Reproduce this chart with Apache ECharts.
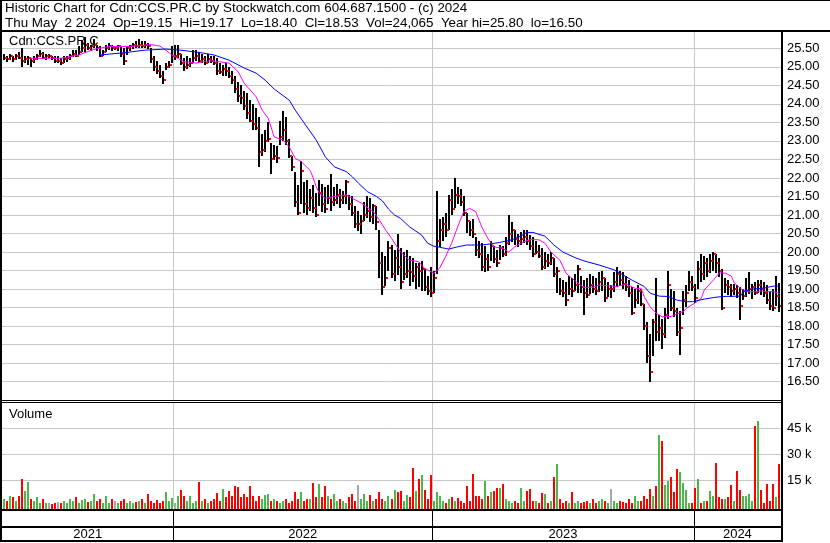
<!DOCTYPE html>
<html><head><meta charset="utf-8">
<script src="https://cdn.jsdelivr.net/npm/echarts@6/dist/echarts.min.js"></script>
<style>html,body{margin:0;padding:0;background:#fff}#c{width:830px;height:543px}</style>
</head><body><div id="c"></div>
<script>
// ---- data (one bar per ~3 trading days) ----
const high = [25.35,25.3,25.35,25.3,25.35,25.4,25.5,25.3,25.3,25.25,
25.3,25.35,25.45,25.4,25.35,25.35,25.3,25.3,25.3,25.25,
25.3,25.3,25.35,25.45,25.45,25.55,25.7,25.8,25.65,25.6,
25.75,25.6,25.55,25.45,25.6,25.65,25.6,25.55,25.6,25.55,
25.5,25.55,25.6,25.65,25.7,25.75,25.7,25.7,25.65,25.5,
25.3,25.15,25.05,24.9,25.1,25.15,25.55,25.6,25.6,25.35,
25.25,25.3,25.25,25.45,25.45,25.4,25.35,25.3,25.35,25.3,
25.3,25.25,25.1,25.05,25.1,25.0,24.9,24.75,24.6,24.5,
24.35,24.3,24.1,24.0,23.9,23.65,23.2,23.3,23.5,22.95,
22.9,22.85,23.55,23.8,23.65,23.05,22.6,22.15,21.8,22.45,
21.9,21.95,21.7,21.8,21.6,21.95,21.85,21.75,21.8,22.1,
21.75,21.85,21.7,21.65,21.95,21.55,21.5,21.25,21.1,21.0,
21.35,21.5,21.45,21.3,21.25,20.6,20.0,19.9,20.3,20.2,
20.05,20.5,20.1,20.0,20.05,19.9,19.85,19.7,19.7,19.75,
19.55,19.35,19.6,19.5,21.65,20.9,20.95,21.05,21.55,21.7,
22.0,21.75,21.7,21.5,21.05,20.85,20.9,20.4,20.3,20.25,
20.15,19.95,20.3,20.15,20.05,20.2,20.15,20.4,21.0,20.8,
20.6,20.5,20.55,20.6,20.6,20.45,20.4,20.3,20.2,20.1,
20.0,19.95,20.0,19.85,19.6,19.3,19.25,19.2,19.35,19.3,
19.4,19.65,19.35,19.25,19.3,19.4,19.35,19.3,19.45,19.5,
19.3,19.2,19.1,19.45,19.6,19.5,19.45,19.35,19.25,19.05,
19.0,19.1,19.0,18.6,18.1,17.8,18.2,19.3,18.3,18.2,
18.5,19.5,19.0,18.95,18.5,18.4,18.95,19.1,19.5,19.35,
19.15,19.75,19.95,19.9,19.85,19.95,20.0,19.95,19.85,19.55,
19.3,19.25,19.15,19.15,19.1,19.05,19.0,19.3,19.45,19.15,
19.2,19.25,19.25,19.2,19.1,18.95,19.0,19.35,19.17];
const low = [25.2,25.15,25.2,25.15,25.2,25.2,25.0,25.1,25.05,25.0,
25.1,25.2,25.25,25.2,25.2,25.25,25.2,25.1,25.1,25.05,
25.1,25.15,25.2,25.25,25.25,25.3,25.4,25.4,25.45,25.45,
25.5,25.45,25.25,25.3,25.4,25.45,25.45,25.45,25.45,25.25,
25.05,25.3,25.45,25.5,25.5,25.5,25.5,25.5,25.5,25.1,
24.9,24.8,24.7,24.55,24.9,24.95,25.1,25.2,25.25,25.05,
24.9,24.95,25.0,25.1,25.15,25.1,25.1,25.05,25.1,25.1,
25.05,24.8,24.8,24.75,24.75,24.7,24.55,24.3,24.05,24.0,
23.85,23.6,23.5,23.3,23.3,22.3,22.6,22.7,22.95,22.1,
22.5,22.4,22.9,23.0,22.9,22.55,22.2,21.2,21.0,21.3,
21.05,21.0,21.1,21.05,20.95,21.25,21.1,21.05,21.3,21.1,
21.25,21.3,21.2,21.3,21.3,21.15,20.95,20.65,20.55,20.5,
20.85,20.9,20.8,20.75,20.6,19.3,18.85,19.1,19.5,19.3,
19.2,19.4,19.0,19.25,19.3,19.1,19.2,19.0,19.05,18.95,
18.95,18.85,18.8,18.9,19.4,20.15,20.3,20.4,20.6,21.0,
21.2,21.3,21.25,20.95,20.5,20.45,20.4,19.9,19.85,19.5,
19.45,19.5,19.75,19.7,19.6,19.8,19.85,19.9,20.2,20.25,
20.2,20.15,20.2,20.25,20.2,20.05,19.85,19.95,19.85,19.5,
19.55,19.6,19.65,19.35,18.9,18.85,18.8,18.55,18.85,18.8,
18.95,18.9,18.9,18.3,18.75,18.85,18.9,18.85,18.9,18.95,
18.65,18.8,18.75,18.9,19.05,19.1,19.0,18.95,18.8,18.3,
18.5,18.6,18.55,17.9,17.0,16.5,17.2,17.6,17.6,17.4,
17.7,18.2,18.4,18.25,17.75,17.2,18.3,18.5,18.95,18.95,
18.65,19.0,19.2,19.25,19.35,19.45,19.5,19.45,19.35,18.45,
18.9,18.85,18.8,18.85,18.75,18.15,18.7,18.8,18.85,18.75,
18.85,18.9,18.85,18.8,18.6,18.45,18.4,18.55,18.40];
const close = [25.25,25.2,25.3,25.2,25.3,25.25,25.15,25.2,25.25,25.15,
25.2,25.3,25.35,25.25,25.3,25.3,25.25,25.15,25.15,25.1,
25.2,25.25,25.3,25.35,25.3,25.4,25.5,25.6,25.5,25.55,
25.6,25.5,25.3,25.4,25.5,25.55,25.5,25.5,25.55,25.35,
25.15,25.5,25.55,25.6,25.55,25.6,25.55,25.6,25.55,25.2,
25.0,24.9,24.75,24.65,25.0,25.05,25.3,25.3,25.35,25.1,
25.0,25.05,25.1,25.25,25.3,25.15,25.2,25.1,25.2,25.15,
25.1,24.9,24.85,24.95,24.9,24.75,24.65,24.4,24.2,24.15,
23.95,23.75,23.55,23.45,23.35,22.7,22.75,23.0,23.05,22.5,
22.6,22.55,23.1,23.3,23.0,22.6,22.3,21.35,21.05,22.2,
21.3,21.2,21.45,21.2,21.0,21.6,21.3,21.15,21.45,21.35,
21.4,21.55,21.4,21.5,21.9,21.3,21.05,20.75,20.75,20.85,
21.0,21.1,20.95,21.25,20.8,19.7,19.05,19.3,20.1,19.4,
19.85,19.6,19.2,19.4,19.5,19.45,19.35,19.6,19.5,19.55,
19.05,18.95,18.9,19.3,20.3,20.6,20.75,20.6,21.4,21.15,
21.55,21.5,21.35,21.05,20.85,20.6,20.5,20.05,19.95,19.6,
19.8,19.6,20.15,19.8,19.7,20.1,19.95,20.25,20.5,20.6,
20.35,20.3,20.35,20.4,20.3,20.15,19.95,20.0,19.9,19.6,
19.75,19.7,19.85,19.4,19.5,18.95,18.9,18.7,19.0,18.95,
19.1,19.55,19.05,18.9,18.85,19.1,19.0,18.95,19.2,19.3,
18.75,19.0,19.0,19.2,19.4,19.25,19.15,19.05,18.9,18.35,
18.7,18.95,18.6,18.0,17.2,16.75,18.1,17.85,17.95,17.8,
18.3,19.1,18.5,18.4,17.85,17.95,18.7,18.9,19.2,19.05,
18.75,19.55,19.4,19.7,19.5,19.75,19.95,19.7,19.5,18.5,
19.1,19.05,18.95,19.0,18.9,18.55,18.8,18.95,19.0,19.05,
18.9,19.1,19.0,18.9,18.7,18.55,18.5,18.8,18.53];
const volumeK = [4,3,6,5,3,6,15.8,8.5,13.8,4,
3,5,2,4,2,1.5,1,2,2.5,1.5,
3,2,4,3,5,2,3.5,4,2.5,3,
7,3,4,2,5.6,2,4,3,2,3,
4,2,3,2,2.5,3,4,2,7,3,
2,3.5,2,3,8,3,4.5,2,5.5,9.4,
6,3,5.5,2,3,13.8,3,4,2,3,
4,7.5,3,10,5,8.5,6,11.3,10.8,5,
7,5,11.3,6,3,6,4,6.5,7,3,
4,3,2,3,4,2,3,8,4,8,
3,4,4,13.3,5,12.7,5,11.3,6,4,
7,3,4,3,2,5,7,3,12.3,4,
7,3,6.5,3,4,8,4,3,5.5,4,
9.4,8,8.5,3,6.5,5,22,8.5,15.8,18,
9,4,18,3,8,5.5,3,2,4,5,
3,4.5,3,2,11.3,3,18.7,6,6,4,
14.6,5.5,8,8.5,10.4,10.4,12.7,4,3,2,
3,2,10.4,3,8.5,9.8,3,3,2,7.5,
7,2,3,16.7,24.4,4,2,3,2,8,
2,3,2,2.5,3,2,4,2,3,4,
3,2,10,3,2,3,2.5,2,4,2,
5.6,3,3,5.5,4,10,5.5,11.3,41,37.7,
12,14.6,17,8,21.5,19.6,13.3,9.4,1.5,1.5,
10.4,15.6,2,3,3,8.5,6,24.8,5,4,
4,5,12,3,20.4,9,6,6,7,3,
46.3,49,9,2,12.7,3,12.7,5,24.065];
// moving averages, sampled at bar indices
const pinkIdx = [9,19,25,30,35,42,49,52,54,56,60,64,67,70,75,78,80,84,86,88,90,93,95,97,99,102,103,104,105,107,110,114,116,119,123,125,127,129,132,135,138,140,143,145,147,149,151,153,155,157,159,161,163,166,168,170,172,175,178,180,182,185,187,189,191,193,196,198,201,204,207,210,212,213,215,217,219,222,223,226,227,230,232,233,236,238,240,242,243,245,247,250,252,254,256,258];
const pinkVal = [25.23,25.23,25.32,25.47,25.55,25.55,25.6,25.56,25.45,25.32,25.14,25.1,25.15,25.16,25.1,24.87,24.56,24.19,23.83,23.61,23.11,23.02,22.84,22.53,22.44,22.2,21.99,21.76,21.59,21.45,21.5,21.54,21.45,21.32,21.09,20.86,20.6,20.37,20.0,19.78,19.74,19.56,19.43,19.56,19.88,20.24,20.68,21.09,21.18,21.09,20.68,20.37,20.14,20.1,20.0,20.14,20.24,20.34,20.33,20.24,20.0,19.78,19.43,19.29,19.16,19.04,19.05,19.11,19.09,19.07,19.14,19.02,19.02,18.8,18.52,18.35,18.25,18.26,18.3,18.39,18.48,18.63,18.75,18.98,19.24,19.44,19.43,19.35,19.16,19.02,18.93,18.93,18.95,18.93,18.93,18.88];
const blueIdx = [32,40,47,54,59,65,70,75,80,84,87,90,95,97,100,104,107,110,114,116,118,121,124,126,128,130,132,135,139,141,143,145,148,151,154,159,162,165,169,172,174,176,180,183,186,190,193,198,203,206,209,213,215,218,221,224,227,229,233,236,239,245,246,249,253,256,258];
const blueVal = [25.32,25.38,25.45,25.48,25.45,25.39,25.32,25.18,24.97,24.83,24.64,24.4,24.1,23.83,23.48,23.02,22.57,22.3,22.17,22.03,21.86,21.63,21.5,21.38,21.16,21.0,20.91,20.68,20.46,20.24,20.16,20.13,20.08,20.14,20.19,20.19,20.22,20.26,20.33,20.43,20.53,20.53,20.43,20.19,20.0,19.85,19.76,19.65,19.52,19.38,19.24,19.07,18.89,18.81,18.8,18.7,18.66,18.66,18.73,18.77,18.8,18.81,18.93,19.0,19.03,19.08,19.08];
const years = ['2021','2022','2023','2024'];
const yearStart = [0,57,143,230];
const titleLines = ['Historic Chart for Cdn:CCS.PR.C by Stockwatch.com 604.687.1500 - (c) 2024',
  'Thu May  2 2024  Op=19.15  Hi=19.17  Lo=18.40  Cl=18.53  Vol=24,065  Year hi=25.80  lo=16.50'];
const symbolLabel = 'Cdn:CCS.PR.C';
const volumeLabel = 'Volume';

// ---- build ----
const N = close.length;
const cats = close.map((_, i) => String(i));
const ohlc = close.map((c, i) => [i, high[i], low[i], c]);
const vol = volumeK.map((v, i) => [i, v, i === 0 ? 1 : Math.sign(close[i] - close[i - 1])]);
const pink = pinkIdx.map((k, j) => [k, pinkVal[j]]);
const blue = blueIdx.map((k, j) => [k, blueVal[j]]);
const yearCells = years.map((y, k) => [yearStart[k], k + 1 < years.length ? yearStart[k + 1] : N]);
const FONT = '"Liberation Sans", Arial, sans-serif';
const GRID = '#c8c8c8';
const T = 'rgba(0,0,0,0)';
const priceLineColors = []; for (let k = 0; k <= 20; k++) priceLineColors.push(k === 0 || k === 20 ? T : GRID);

const chart = echarts.init(document.getElementById('c'), null, {renderer: 'canvas'});
const splitX = {show: true, interval: (idx) => idx > 0 && yearStart.indexOf(idx) >= 0, lineStyle: {color: GRID, width: 1}};
const hiddenX = (g, split) => ({type: 'category', gridIndex: g, data: cats, boundaryGap: true,
  axisLine: {show: false}, axisTick: {show: false}, axisLabel: {show: false}, splitLine: split ? splitX : {show: false}});

chart.setOption({
  animation: false,
  backgroundColor: '#fff',
  title: {text: titleLines.join('\n'), left: 5, top: 1, padding: 0,
    textStyle: {fontFamily: FONT, fontSize: 13.4, fontWeight: 'normal', color: '#000', lineHeight: 15}},
  grid: [
    {left: 2, right: 49, top: 29.8, height: 370.4},
    {left: 2, right: 49, top: 402, height: 104},
    {left: 2, right: 49, top: 511, height: 29}
  ],
  xAxis: [hiddenX(0, true), hiddenX(1, true), hiddenX(2, false)],
  yAxis: [
    {type: 'value', gridIndex: 0, position: 'right', min: 16, max: 26, interval: 0.5,
      axisLine: {show: false}, axisTick: {show: false},
      axisLabel: {margin: 6, color: '#000', fontFamily: FONT, fontSize: 13,
        formatter: v => (v <= 16 || v >= 26) ? '' : v.toFixed(2)},
      splitLine: {show: true, lineStyle: {color: priceLineColors, width: 1}}},
    {type: 'value', gridIndex: 1, position: 'right', min: 0, max: 60, interval: 15,
      axisLine: {show: false}, axisTick: {show: false},
      axisLabel: {margin: 6, color: '#000', fontFamily: FONT, fontSize: 13,
        formatter: v => (v > 0 && v < 60) ? v + ' k' : ''},
      splitLine: {show: true, lineStyle: {color: [T, GRID, GRID, GRID, T], width: 1}}},
    {type: 'value', gridIndex: 2, min: 0, max: 1, show: false}
  ],
  graphic: [
    {type: 'text', left: 9, top: 35, z: 1, style: {text: symbolLabel, font: '13px ' + FONT, fill: '#000'}},
    {type: 'text', left: 9, top: 408, z: 1, style: {text: volumeLabel, font: '13px ' + FONT, fill: '#000'}},
    {type: 'rect', z: 100, shape: {x: 0, y: 0, width: 830, height: 1}, style: {fill: '#000'}},
    {type: 'rect', z: 100, shape: {x: 0, y: 30, width: 830, height: 2}, style: {fill: '#000'}},
    {type: 'rect', z: 100, shape: {x: 0, y: 0, width: 2, height: 542}, style: {fill: '#000'}},
    {type: 'rect', z: 100, shape: {x: 781, y: 30, width: 2, height: 512}, style: {fill: '#000'}},
    {type: 'rect', z: 100, shape: {x: 0, y: 400, width: 781, height: 1}, style: {fill: '#000'}},
    {type: 'rect', z: 100, shape: {x: 0, y: 402, width: 781, height: 1}, style: {fill: '#000'}},
    {type: 'rect', z: 100, shape: {x: 0, y: 509, width: 781, height: 2}, style: {fill: '#000'}},
    {type: 'rect', z: 100, shape: {x: 0, y: 526, width: 781, height: 2}, style: {fill: '#000'}},
    {type: 'rect', z: 100, shape: {x: 0, y: 540, width: 783, height: 2}, style: {fill: '#000'}}
  ],
  series: [
    {type: 'custom', xAxisIndex: 0, yAxisIndex: 0, data: ohlc, clip: true, z: 2,
      renderItem: (params, api) => {
        const i = api.value(0);
        const h = api.coord([i, api.value(1)]), l = api.coord([i, api.value(2)]);
        const x = Math.round(h[0]);
        return {type: 'rect', shape: {x: x - 1, y: Math.round(h[1]), width: 2, height: Math.max(2, Math.round(l[1] - h[1]))}, style: {fill: '#000'}};
      }},
    {type: 'custom', xAxisIndex: 0, yAxisIndex: 0, data: ohlc, clip: true, z: 4,
      renderItem: (params, api) => {
        const i = api.value(0);
        const c = api.coord([i, api.value(3)]);
        const x = Math.round(c[0]);
        return {type: 'rect', shape: {x: x + 1, y: Math.round(c[1]) - 1, width: 2, height: 2}, style: {fill: '#ff0000'}};
      }},
    {type: 'line', xAxisIndex: 0, yAxisIndex: 0, data: pink, showSymbol: false, symbol: 'none', smooth: false,
      lineStyle: {color: '#ff00ff', width: 1}, z: 5},
    {type: 'line', xAxisIndex: 0, yAxisIndex: 0, data: blue, showSymbol: false, symbol: 'none', smooth: false,
      lineStyle: {color: '#0000ff', width: 1}, z: 5},
    {type: 'custom', xAxisIndex: 1, yAxisIndex: 1, data: vol, clip: false,
      renderItem: (params, api) => {
        const i = api.value(0), d = api.value(2);
        const top = api.coord([i, api.value(1)]), base = api.coord([i, 0]);
        const x = Math.round(top[0]);
        const col = d > 0 ? '#4cb84c' : (d < 0 ? '#ff0000' : '#a8a8a8');
        return {type: 'rect', shape: {x: x - 1, y: Math.round(top[1]), width: 2, height: Math.round(base[1] + 3 - top[1])}, style: {fill: col}};
      }},
    {type: 'custom', xAxisIndex: 2, yAxisIndex: 2, data: yearCells, clip: false,
      renderItem: (params, api) => {
        const k = params.dataIndex, s = api.value(0), e = api.value(1);
        const bw = api.size([1, 0])[0];
        const x0 = api.coord([s, 0])[0] - bw / 2, x1 = api.coord([e - 1, 0])[0] + bw / 2;
        const cs = params.coordSys;
        const ch = [{type: 'text', style: {text: years[k], x: (x0 + x1) / 2, y: cs.y + cs.height - 6,
          align: 'center', verticalAlign: 'middle', fontSize: 13, fontFamily: FONT, fill: '#000'}}];
        if (s > 0) ch.push({type: 'rect', shape: {x: Math.round(x0), y: cs.y - 2, width: 1, height: cs.height + 2}, style: {fill: '#000'}});
        return {type: 'group', children: ch};
      }}
  ]
});
</script></body></html>
